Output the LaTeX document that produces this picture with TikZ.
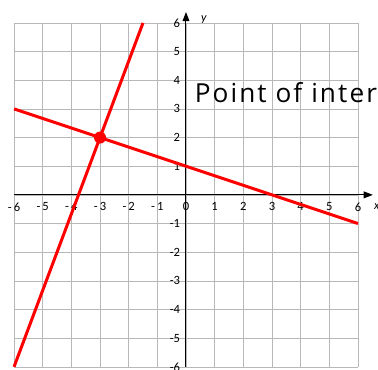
\documentclass[tikz,border=0pt]{standalone}
\usepackage{fontspec}
\setmainfont{Carlito}
\newfontfamily\handfont[LetterSpace=8]{Open Sans}
\usetikzlibrary{arrows.meta}

\begin{document}
\begin{tikzpicture}[
  grid/.style={draw=black!28,line width=0.6pt},
  ax/.style={draw=black,line width=1pt,-{Triangle[length=3.2mm,width=2.4mm]}},
  ln/.style={draw=red,line width=3pt},
  dot/.style={circle,fill=red,minimum size=4.2mm,inner sep=0pt},
  tick/.style={font=\fontsize{12.5}{12.5}\selectfont,inner sep=0pt},
  lab/.style={font=\itshape\fontsize{12}{12}\selectfont\rmfamily,inner sep=0pt}]
  \useasboundingbox (-6.49,-6.10) rectangle (6.70,6.80);
  % grid and axes
  \foreach \k in {-6,...,6} {
    \draw[grid] (\k,-6) -- (\k,6);
    \draw[grid] (-6,\k) -- (6,\k);
  }
  \coordinate (xl) at (-6,0); \coordinate (xr) at (6.52,0);
  \coordinate (yb) at (0,-6); \coordinate (yt) at (0,6.38);
  \draw[ax] (xl) -- (xr);
  \draw[ax] (yb) -- (yt);
  \foreach \k in {1,...,6} {
    \node[tick] at (-\k,-0.42) {-\,\k};
    \node[tick] at (\k,-0.42) {\k};
    \node[tick,anchor=east] at (-0.2,\k) {\k};
    \node[tick,anchor=east] at (-0.2,-\k) {-\k};
  }
  \node[tick] at (0,-0.42) {0};
  \node[lab] (ylab) at (0.62,6.12) {y};
  \node[lab] (xlab) at (6.66,-0.4) {x};
  % the two lines
  \coordinate (sa) at (-6,-6); \coordinate (sb) at (-1.5,6);
  \coordinate (fa) at (-6,3); \coordinate (fb) at (6,-1);
  \draw[ln] (sa) -- (sb);
  \draw[ln] (fa) -- (fb);
  \node[dot] (P) at (-3,2) {};
  \node[font=\handfont\fontsize{26}{26}\selectfont,anchor=base west,inner sep=0pt] (note) at (0.3,3.21) {Point of inter};
\end{tikzpicture}
\end{document}
